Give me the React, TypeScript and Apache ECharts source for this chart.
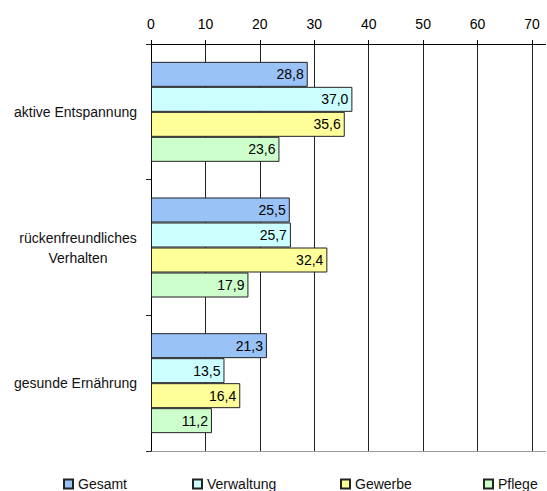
import React, { useEffect, useRef } from "react";
import * as echarts from "echarts";

const categories = ["aktive Entspannung", "rückenfreundliches Verhalten", "gesunde Ernährung"];
const seriesNames = ["Gesamt", "Verwaltung", "Gewerbe", "Pflege"];
const gesamt = [28.8, 25.5, 21.3];
const verwaltung = [37.0, 25.7, 13.5];
const gewerbe = [35.6, 32.4, 16.4];
const pflege = [23.6, 17.9, 11.2];
const seriesColors = ["#99C2F7", "#CCFFFF", "#FFFF99", "#CCFFCC"];
const legendLefts = [63, 192, 340, 483];

const FONT = "'Liberation Sans', Arial, sans-serif";

export default function App() {
  const ref = useRef<HTMLDivElement>(null);

  useEffect(() => {
    if (!ref.current) return;
    const chart = echarts.init(ref.current, undefined, { renderer: "svg" });
    const values = [gesamt, verwaltung, gewerbe, pflege];

    const fmt = (v: number) => v.toFixed(1).replace(".", ",");

    chart.setOption({
      animation: false,
      backgroundColor: "#ffffff",
      textStyle: { fontFamily: FONT },
      grid: { left: 151, top: 44, width: 381, height: 407 },
      xAxis: {
        type: "value",
        position: "top",
        min: 0,
        max: 70,
        interval: 10,
        axisLine: { show: true, lineStyle: { color: "#000", width: 1 } },
        axisTick: { show: true, length: 4, lineStyle: { color: "#000" } },
        axisLabel: { color: "#000", fontSize: 14, fontFamily: FONT, margin: 13 },
        splitLine: { show: true, lineStyle: { color: "#222", width: 1 } },
      },
      yAxis: {
        type: "category",
        inverse: true,
        data: categories,
        axisLine: { show: true, lineStyle: { color: "#000", width: 1 } },
        axisTick: { show: true, length: 5, lineStyle: { color: "#222" } },
        axisLabel: {
          color: "#111",
          fontSize: 14,
          fontFamily: FONT,
          margin: 14,
          formatter: (v: string) =>
            v === "rückenfreundliches Verhalten"
              ? "{c|rückenfreundliches}\n{c|Verhalten}"
              : v,
          rich: {
            c: { width: 118, align: "center", fontSize: 14, lineHeight: 20, color: "#111", fontFamily: FONT },
          },
        },
      },
      legend: seriesNames.map((name, i) => ({
        data: [name],
        left: legendLefts[i],
        top: 477,
        padding: 0,
        itemWidth: 9,
        itemHeight: 9,
        itemGap: 5,
        icon: "rect",
        textStyle: { color: "#111", fontSize: 14, fontFamily: FONT },
      })),
      graphic: [
        {
          type: "line",
          shape: { x1: 532, y1: 44.5, x2: 546, y2: 44.5 },
          style: { stroke: "#000", lineWidth: 1 },
        },
        {
          type: "line",
          shape: { x1: 151, y1: 451.5, x2: 546, y2: 451.5 },
          style: { stroke: "#999", lineWidth: 1 },
        },
      ],
      series: seriesNames.map((name, i) => ({
        name,
        type: "bar",
        data: values[i],
        barWidth: 25,
        barGap: "0%",
        itemStyle: { color: seriesColors[i], borderColor: "#222", borderWidth: 1 },
        label: {
          show: true,
          position: "insideRight",
          distance: 4,
          color: "#000",
          fontSize: 14,
          fontFamily: FONT,
          formatter: (p: any) => fmt(p.value),
        },
      })),
    });

    return () => chart.dispose();
  }, []);

  return (
    <div
      ref={ref}
      style={{ position: "absolute", left: 0, top: 0, width: 547, height: 491 }}
    />
  );
}
